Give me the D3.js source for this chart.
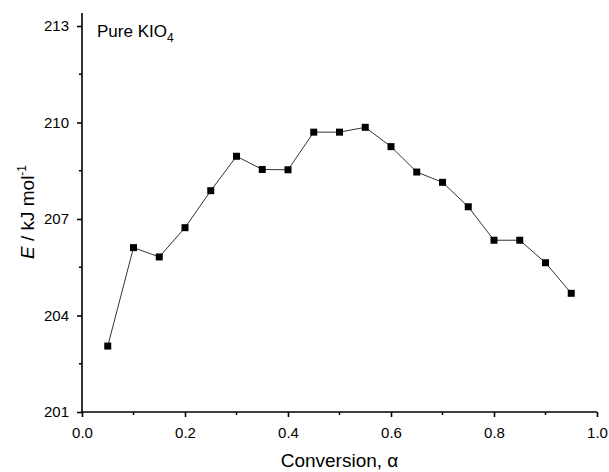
<!DOCTYPE html>
<html>
<head>
<meta charset="utf-8">
<script src="https://cdn.jsdelivr.net/npm/d3@7"></script>
<style>
  body { margin: 0; background: #fff; }
  svg text { font-family: "Liberation Sans", Arial, sans-serif; fill: #000; }
</style>
</head>
<body>
<svg id="chart" width="609" height="472"></svg>
<script>
// data
const alpha = [0.05, 0.10, 0.15, 0.20, 0.25, 0.30, 0.35, 0.40, 0.45, 0.50,
               0.55, 0.60, 0.65, 0.70, 0.75, 0.80, 0.85, 0.90, 0.95];
const energy = [203.05, 206.11, 205.82, 206.73, 207.88, 208.95, 208.54, 208.53, 209.70, 209.70,
                209.85, 209.25, 208.46, 208.14, 207.38, 206.34, 206.34, 205.64, 204.69];
const xTicks = [0.0, 0.2, 0.4, 0.6, 0.8, 1.0];
const xMinor = [0.1, 0.3, 0.5, 0.7, 0.9];
const yTicks = [201, 204, 207, 210, 213];
const yMinor = [202.5, 205.5, 208.5, 211.5];

const data = alpha.map((a, i) => ({a: a, e: energy[i]}));

const svg = d3.select('#chart');
const mLeft = 82, mRight = 597, mBottom = 412, mTop = 13;

//scales
const xScale = d3.scaleLinear().domain([0, 1]).range([mLeft, mRight]);
const yScale = d3.scaleLinear().domain([201, 213]).range([mBottom, 26]);

//axes
const xAxis = svg.append('g')
    .attr('transform', `translate(0, ${mBottom})`)
    .call(d3.axisBottom(xScale).tickValues(xTicks).tickFormat(d3.format('.1f'))
            .tickSize(5).tickPadding(10));
xAxis.append('g').selectAll('line')
    .data(xMinor)
    .join('line')
    .attr('x1', d => xScale(d)).attr('x2', d => xScale(d))
    .attr('y1', 0).attr('y2', 3)
    .attr('stroke', '#000').attr('stroke-width', 1.5);

const yAxis = svg.append('g')
    .attr('transform', `translate(${mLeft}, 0)`)
    .call(d3.axisLeft(yScale).tickValues(yTicks).tickFormat(d3.format('d'))
            .tickSize(5).tickPadding(8));
yAxis.append('g').selectAll('line')
    .data(yMinor)
    .join('line')
    .attr('y1', d => yScale(d)).attr('y2', d => yScale(d))
    .attr('x1', 0).attr('x2', -3)
    .attr('stroke', '#000').attr('stroke-width', 1.5);

// axis lines: y goes a bit above the last tick, no end caps
xAxis.select('.domain').attr('d', `M${mLeft},0H${mRight}`);
yAxis.select('.domain').attr('d', `M0,${mTop}V${mBottom + 0.75}`);

svg.selectAll('.domain, .tick line').attr('stroke', '#000').attr('stroke-width', 1.6);
svg.selectAll('.tick text').style('font-size', '15px');

//line and markers
svg.append('path')
    .datum(data)
    .attr('fill', 'none')
    .attr('stroke', '#333')
    .attr('stroke-width', 1)
    .attr('d', d3.line().x(d => xScale(d.a)).y(d => yScale(d.e)));

const ms = 7;
svg.append('g').selectAll('rect')
    .data(data)
    .join('rect')
    .attr('x', d => xScale(d.a) - ms / 2)
    .attr('y', d => yScale(d.e) - ms / 2)
    .attr('width', ms)
    .attr('height', ms)
    .attr('fill', '#000');

//titles
svg.append('text')
    .attr('x', (mLeft + mRight) / 2)
    .attr('y', 467)
    .attr('text-anchor', 'middle')
    .style('font-size', '19px')
    .text('Conversion, α');

const yTitle = svg.append('text')
    .attr('transform', `translate(34, 212) rotate(-90)`)
    .attr('text-anchor', 'middle')
    .style('font-size', '19px');
yTitle.append('tspan').style('font-style', 'italic').text('E');
yTitle.append('tspan').text(' / kJ mol');
yTitle.append('tspan').attr('dy', -8).style('font-size', '12px').text('-1');

const label = svg.append('text')
    .attr('x', 97)
    .attr('y', 37)
    .style('font-size', '17px');
label.append('tspan').text('Pure KIO');
label.append('tspan').attr('dy', 5).style('font-size', '12px').text('4');
</script>
</body>
</html>
